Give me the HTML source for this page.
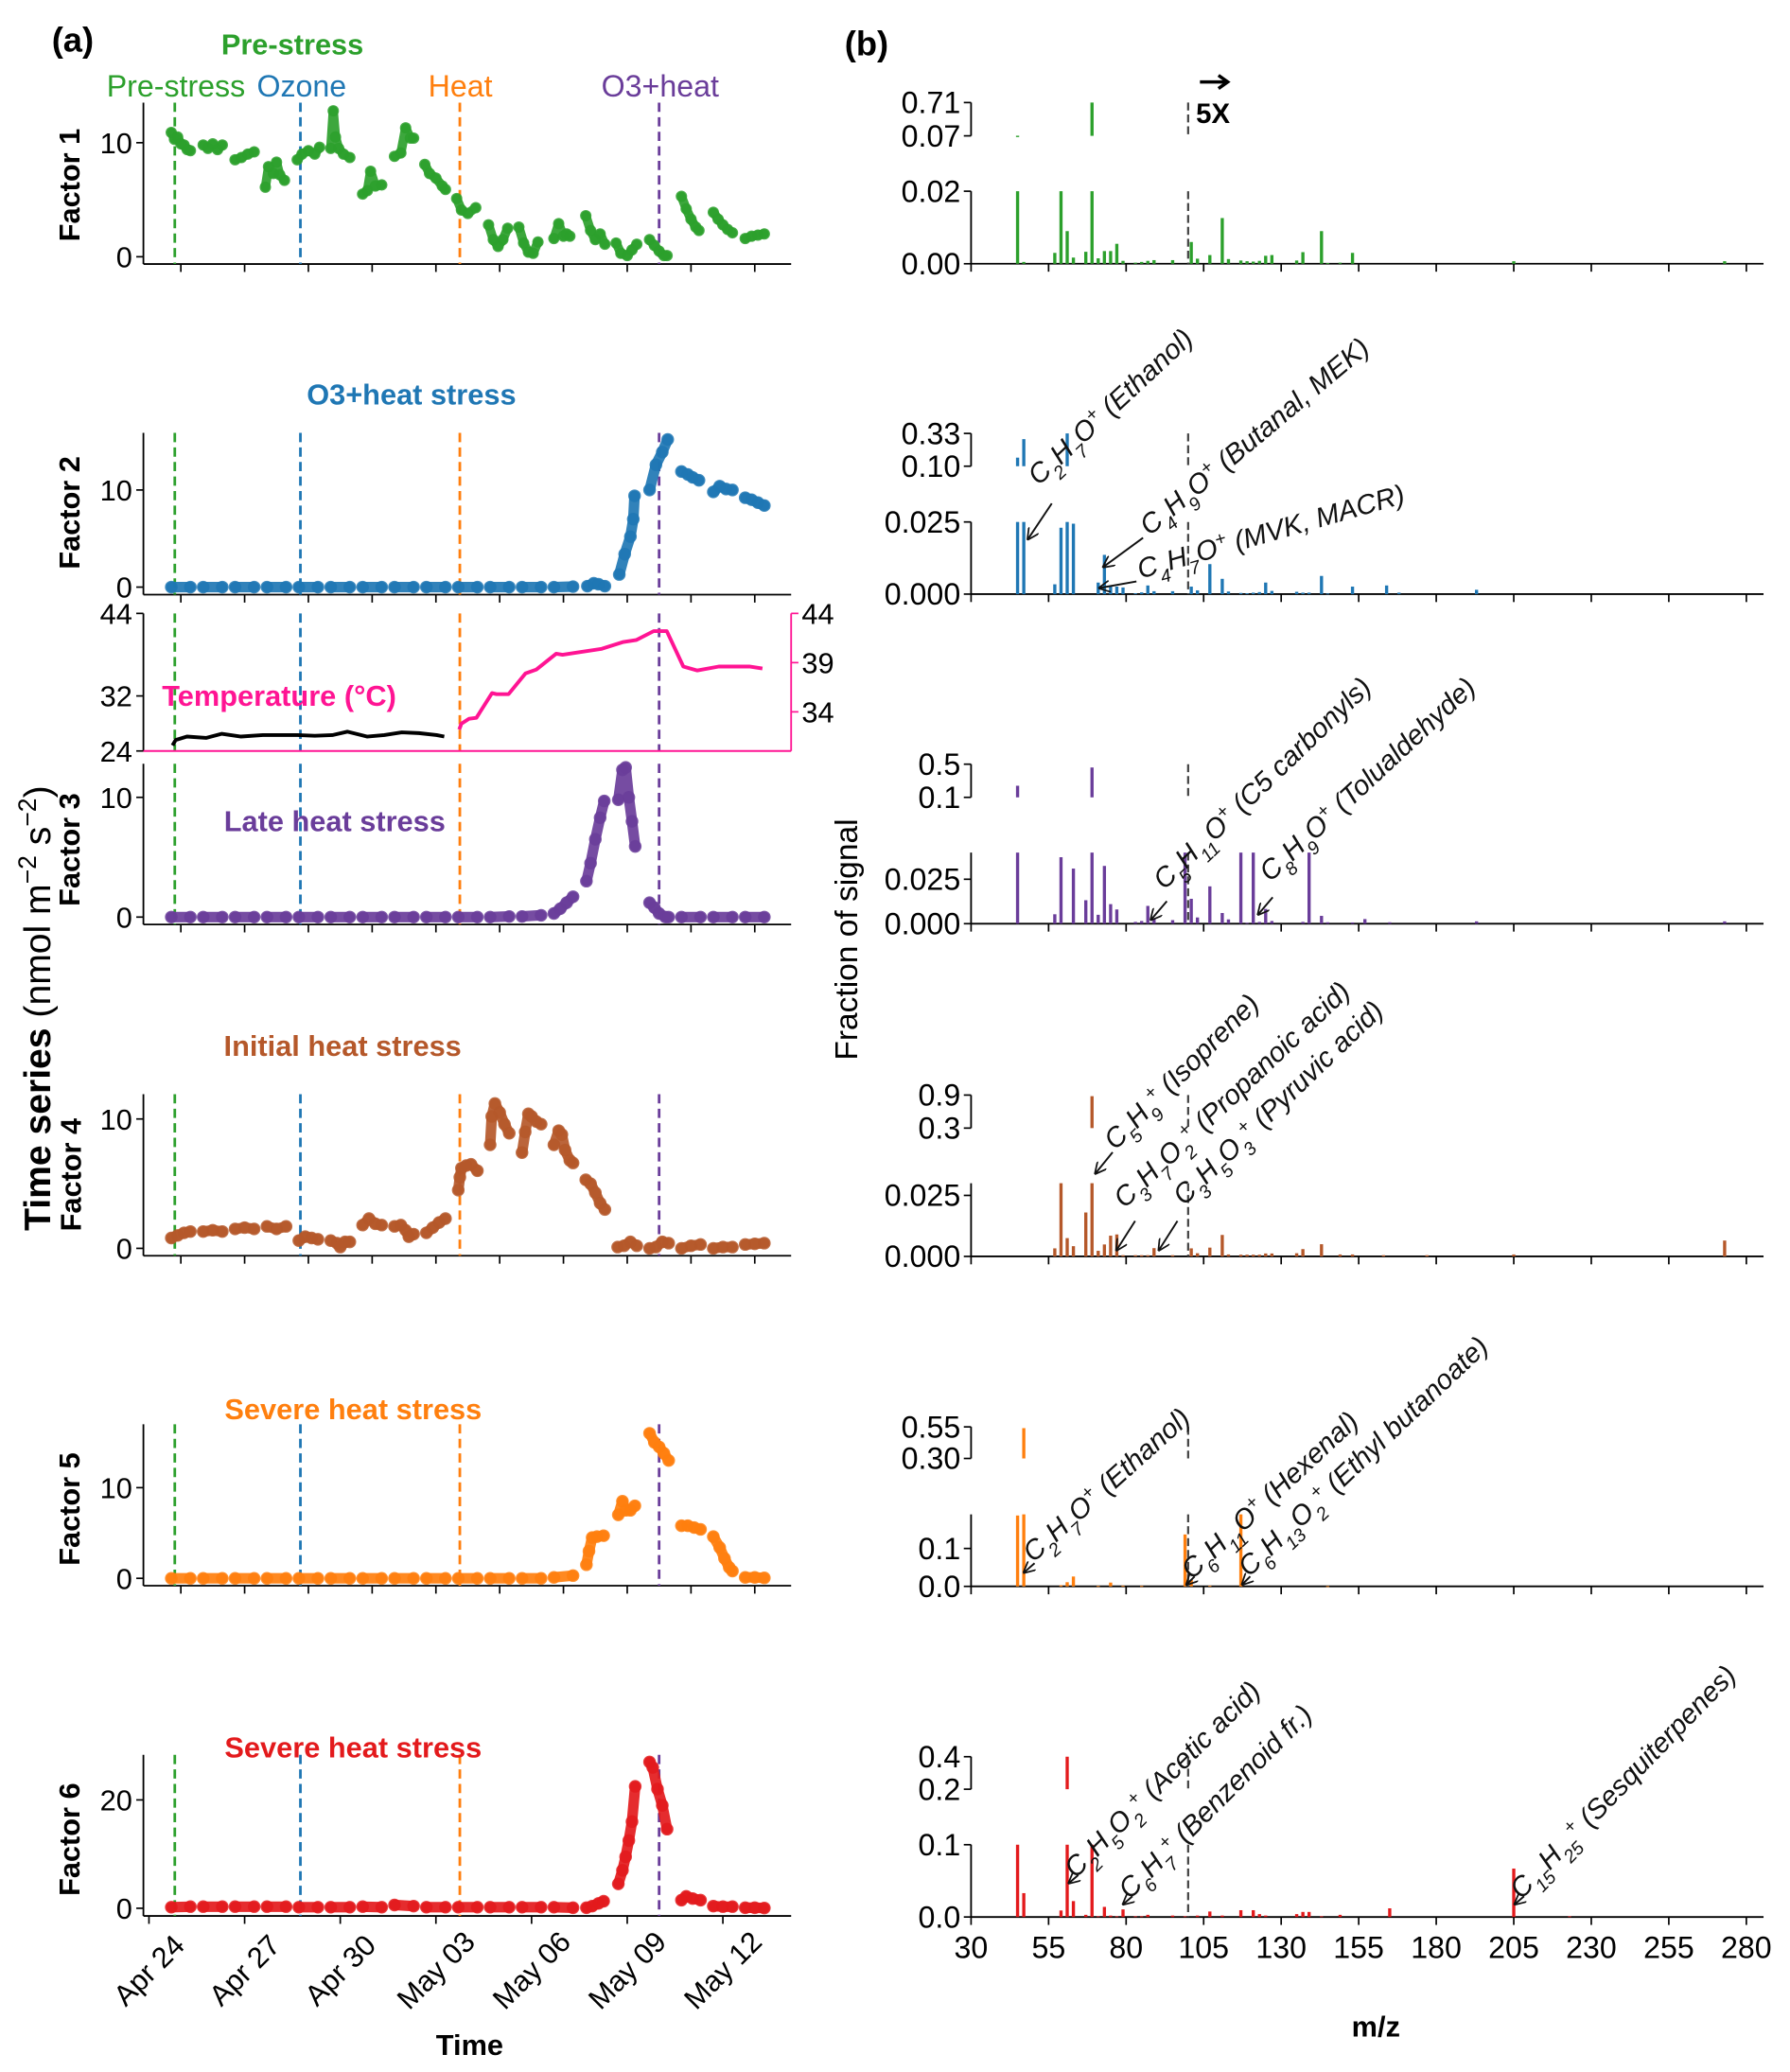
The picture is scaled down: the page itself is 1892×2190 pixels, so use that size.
<!DOCTYPE html>
<html><head><meta charset="utf-8"><title>PMF factors</title>
<style>
html,body{margin:0;padding:0;background:#fff;}
svg{display:block;font-family:"Liberation Sans",Arial,sans-serif;}
.tk{font-size:22px;fill:#000;}
.bt{font-weight:bold;font-size:22px;}
.ann{font-size:21px;font-style:italic;fill:#111;}
</style></head>
<body>
<svg id="fig" xmlns="http://www.w3.org/2000/svg" width="1892" height="2190" viewBox="0 0 1353 1568" preserveAspectRatio="none">
<defs>
<marker id="ah" viewBox="0 0 10 10" refX="9" refY="5" markerWidth="9" markerHeight="9" orient="auto" markerUnits="userSpaceOnUse">
<path d="M0,0 L10,5 L0,10" fill="none" stroke="#111" stroke-width="1.4"/>
</marker>
</defs>
<g id="left"></g>
<g id="right"></g>

<text x="55" y="39" font-size="26" font-weight="bold" text-anchor="middle">(a)</text>
<text x="655" y="42" font-size="26" font-weight="bold" text-anchor="middle">(b)</text>

<text x="221" y="41" class="bt" fill="#2ca02c" text-anchor="middle">Pre-stress</text>
<text x="133" y="73" font-size="23" fill="#2ca02c" text-anchor="middle">Pre-stress</text>
<text x="228" y="73" font-size="23" fill="#1f77b4" text-anchor="middle">Ozone</text>
<text x="348" y="73" font-size="23" fill="#ff7f0e" text-anchor="middle">Heat</text>
<text x="499" y="73" font-size="23" fill="#6a3d9a" text-anchor="middle">O3+heat</text>
<text x="311" y="306" class="bt" fill="#1f77b4" text-anchor="middle">O3+heat stress</text>
<text x="211" y="534" class="bt" fill="#ff1493" text-anchor="middle">Temperature (°C)</text>
<text x="253" y="629" class="bt" fill="#6a3d9a" text-anchor="middle">Late heat stress</text>
<text x="259" y="799" class="bt" fill="#b5582a" text-anchor="middle">Initial heat stress</text>
<text x="267" y="1074" class="bt" fill="#ff7f0e" text-anchor="middle">Severe heat stress</text>
<text x="267" y="1330" class="bt" fill="#e31a1c" text-anchor="middle">Severe heat stress</text>

<text transform="translate(60,140) rotate(-90)" class="bt" text-anchor="middle">Factor 1</text>
<text transform="translate(60,388) rotate(-90)" class="bt" text-anchor="middle">Factor 2</text>
<text transform="translate(60,643) rotate(-90)" class="bt" text-anchor="middle">Factor 3</text>
<text transform="translate(61,889) rotate(-90)" class="bt" text-anchor="middle">Factor 4</text>
<text transform="translate(60,1142) rotate(-90)" class="bt" text-anchor="middle">Factor 5</text>
<text transform="translate(60,1392) rotate(-90)" class="bt" text-anchor="middle">Factor 6</text>
<text transform="translate(38,763) rotate(-90)" font-size="28" text-anchor="middle"><tspan font-weight="bold">Time series</tspan> (nmol m<tspan baseline-shift="super" font-size="19">−2</tspan> s<tspan baseline-shift="super" font-size="19">−2</tspan>)</text>
<text x="355" y="1555" class="bt" text-anchor="middle">Time</text>
<text x="1040" y="1541" class="bt" text-anchor="middle">m/z</text>
<text transform="translate(648,711) rotate(-90)" font-size="24" text-anchor="middle">Fraction of signal</text>

<g>
<line x1="907" y1="62" x2="927" y2="62" stroke="#000" stroke-width="2.5"/>
<path d="M921,57 L928,62 L921,67" fill="none" stroke="#000" stroke-width="2.5"/>
<text x="904" y="93" font-size="21" font-weight="bold">5X</text>
</g>

<g>
<text class="ann" transform="translate(785,368) rotate(-43)">C<tspan baseline-shift="sub" font-size="14">2</tspan>H<tspan baseline-shift="sub" font-size="14">7</tspan>O<tspan baseline-shift="super" font-size="14">+</tspan> (Ethanol)</text>
<line x1="795" y1="381" x2="777" y2="408" stroke="#111" stroke-width="1.4" marker-end="url(#ah)"/>
<text class="ann" transform="translate(869,406) rotate(-40)">C<tspan baseline-shift="sub" font-size="14">4</tspan>H<tspan baseline-shift="sub" font-size="14">9</tspan>O<tspan baseline-shift="super" font-size="14">+</tspan> (Butanal, MEK)</text>
<line x1="864" y1="407" x2="834" y2="429" stroke="#111" stroke-width="1.4" marker-end="url(#ah)"/>
<text class="ann" transform="translate(862,438) rotate(-16)">C<tspan baseline-shift="sub" font-size="14">4</tspan>H<tspan baseline-shift="sub" font-size="14">7</tspan>O<tspan baseline-shift="super" font-size="14">+</tspan> (MVK, MACR)</text>
<line x1="859" y1="440" x2="831" y2="445" stroke="#111" stroke-width="1.4" marker-end="url(#ah)"/>

<text class="ann" transform="translate(880,674) rotate(-44)">C<tspan baseline-shift="sub" font-size="14">5</tspan>H<tspan baseline-shift="sub" font-size="14">11</tspan>O<tspan baseline-shift="super" font-size="14">+</tspan> (C5 carbonyls)</text>
<line x1="882" y1="682" x2="870" y2="696" stroke="#111" stroke-width="1.4" marker-end="url(#ah)"/>
<text class="ann" transform="translate(960,668) rotate(-43)">C<tspan baseline-shift="sub" font-size="14">8</tspan>H<tspan baseline-shift="sub" font-size="14">9</tspan>O<tspan baseline-shift="super" font-size="14">+</tspan> (Tolualdehyde)</text>
<line x1="962" y1="679" x2="951" y2="692" stroke="#111" stroke-width="1.4" marker-end="url(#ah)"/>

<text class="ann" transform="translate(843,871) rotate(-45)">C<tspan baseline-shift="sub" font-size="14">5</tspan>H<tspan baseline-shift="sub" font-size="14">9</tspan><tspan baseline-shift="super" font-size="14">+</tspan> (Isoprene)</text>
<line x1="841" y1="872" x2="828" y2="888" stroke="#111" stroke-width="1.4" marker-end="url(#ah)"/>
<text class="ann" transform="translate(850,915) rotate(-43.5)">C<tspan baseline-shift="sub" font-size="14">3</tspan>H<tspan baseline-shift="sub" font-size="14">7</tspan>O<tspan baseline-shift="sub" font-size="14">2</tspan><tspan baseline-shift="super" font-size="14">+</tspan> (Propanoic acid)</text>
<line x1="858" y1="924" x2="844" y2="946" stroke="#111" stroke-width="1.4" marker-end="url(#ah)"/>
<text class="ann" transform="translate(895,913) rotate(-44)">C<tspan baseline-shift="sub" font-size="14">3</tspan>H<tspan baseline-shift="sub" font-size="14">5</tspan>O<tspan baseline-shift="sub" font-size="14">3</tspan><tspan baseline-shift="super" font-size="14">+</tspan> (Pyruvic acid)</text>
<line x1="890" y1="924" x2="876" y2="946" stroke="#111" stroke-width="1.4" marker-end="url(#ah)"/>

<text class="ann" transform="translate(781,1183) rotate(-42)">C<tspan baseline-shift="sub" font-size="14">2</tspan>H<tspan baseline-shift="sub" font-size="14">7</tspan>O<tspan baseline-shift="super" font-size="14">+</tspan> (Ethanol)</text>
<line x1="782" y1="1183" x2="774" y2="1190" stroke="#111" stroke-width="1.4" marker-end="url(#ah)"/>
<text class="ann" transform="translate(901,1196) rotate(-43)">C<tspan baseline-shift="sub" font-size="14">6</tspan>H<tspan baseline-shift="sub" font-size="14">11</tspan>O<tspan baseline-shift="super" font-size="14">+</tspan> (Hexenal)</text>
<line x1="903" y1="1193" x2="897" y2="1199" stroke="#111" stroke-width="1.4" marker-end="url(#ah)"/>
<text class="ann" transform="translate(944,1194) rotate(-43.6)">C<tspan baseline-shift="sub" font-size="14">6</tspan>H<tspan baseline-shift="sub" font-size="14">13</tspan>O<tspan baseline-shift="sub" font-size="14">2</tspan><tspan baseline-shift="super" font-size="14">+</tspan> (Ethyl butanoate)</text>
<line x1="945" y1="1193" x2="939" y2="1199" stroke="#111" stroke-width="1.4" marker-end="url(#ah)"/>

<text class="ann" transform="translate(813,1422) rotate(-45)">C<tspan baseline-shift="sub" font-size="14">2</tspan>H<tspan baseline-shift="sub" font-size="14">5</tspan>O<tspan baseline-shift="sub" font-size="14">2</tspan><tspan baseline-shift="super" font-size="14">+</tspan> (Acetic acid)</text>
<line x1="815" y1="1419" x2="808" y2="1425" stroke="#111" stroke-width="1.4" marker-end="url(#ah)"/>
<text class="ann" transform="translate(854,1438) rotate(-45)">C<tspan baseline-shift="sub" font-size="14">6</tspan>H<tspan baseline-shift="sub" font-size="14">7</tspan><tspan baseline-shift="super" font-size="14">+</tspan> (Benzenoid fr.)</text>
<line x1="856" y1="1435" x2="849" y2="1441" stroke="#111" stroke-width="1.4" marker-end="url(#ah)"/>
<text class="ann" transform="translate(1150,1438) rotate(-46)">C<tspan baseline-shift="sub" font-size="14">15</tspan>H<tspan baseline-shift="sub" font-size="14">25</tspan><tspan baseline-shift="super" font-size="14">+</tspan> (Sesquiterpenes)</text>
<line x1="1152" y1="1435" x2="1145" y2="1441" stroke="#111" stroke-width="1.4" marker-end="url(#ah)"/>
</g>
</svg>

<script>
// ---------- time series data (t = days since Apr 24 00:00) ----------
const f1T=[[0.7,0.8,0.9,1.0,1.1,1.2,1.3],[1.7,1.85,2.0,2.15,2.3],[2.7,2.9,3.1,3.3],[3.65,3.75,3.9,4.0,4.1,4.25],[4.65,4.8,5.0,5.2,5.35],[5.7,5.78,5.85,5.95,6.1,6.3],[6.7,6.85,6.95,7.1,7.3],[7.7,7.9,8.05,8.2,8.3],[8.65,8.8,9.0,9.2,9.3],[9.65,9.8,10.0,10.25],[10.65,10.8,10.95,11.1,11.25],[11.6,11.75,11.9,12.05,12.2],[12.7,12.85,13.0,13.1,13.2],[13.7,13.85,14.0,14.15,14.3],[14.65,14.8,15.0,15.15,15.3],[15.7,15.85,16.0,16.15,16.25],[16.7,16.85,17.0,17.15,17.25],[17.7,17.85,18.0,18.15,18.3],[18.7,18.9,19.1,19.3]];
const f1V=[[10.9,10.3,10.5,9.9,9.8,9.4,9.3],[9.8,9.5,9.9,9.4,9.8],[8.5,8.7,9.0,9.2],[6.1,7.9,7.3,8.3,7.2,6.7],[8.5,9.0,9.3,9.0,9.6],[9.5,12.8,10.5,9.5,9.0,8.7],[5.5,5.8,7.5,6.2,6.3],[8.8,9.1,11.3,10.4,10.4],[8.1,7.3,6.9,6.2,5.9],[5.1,4.1,3.8,4.3],[2.8,1.5,0.9,1.5,2.5],[2.6,1.2,0.4,0.3,1.3],[1.6,2.9,1.8,2.0,1.8],[3.6,2.3,1.5,2.0,1.1],[1.2,0.3,0.1,0.6,1.1],[1.5,1.0,0.5,0.1,0.1],[5.3,4.2,3.3,2.6,2.3],[3.9,3.3,2.8,2.4,2.1],[1.6,1.8,1.9,2.0]];

const f2T=[[0.7,1.3],[1.7,2.3],[2.7,3.3],[3.7,4.3],[4.7,5.3],[5.7,6.3],[6.7,7.3],[7.7,8.3],[8.7,9.3],[9.7,10.3],[10.7,11.3],[11.7,12.3],[12.7,13.3],[13.75,13.95,14.1,14.3],[14.75,14.92,15.1,15.19,15.23],[15.7,15.9,16.1,16.27],[16.7,16.9,17.05,17.25],[17.7,17.9,18.1,18.3],[18.7,18.9,19.1,19.3]];
const f2V=[[0,0],[0,0],[0,0],[0,0],[0,0],[0,0],[0,0],[0,0],[0,0],[0,0],[0,0],[0,0],[0,0.05],[0.1,0.4,0.3,0.1],[1.3,3.4,5.2,7.0,9.4],[10.0,12.6,13.9,15.2],[11.9,11.6,11.3,11.0],[9.8,10.4,10.1,10.0],[9.2,9.0,8.7,8.4]];

const f3T=[[0.7,1.3],[1.7,2.3],[2.7,3.3],[3.7,4.3],[4.7,5.3],[5.7,6.3],[6.7,7.3],[7.7,8.3],[8.7,9.3],[9.7,10.3],[10.7,11.3],[11.7,12.3],[12.7,12.9,13.1,13.3],[13.72,13.85,14.0,14.15,14.28],[14.72,14.85,14.95,15.05,15.15,15.25],[15.7,15.85,16.0,16.2,16.3],[16.7,17.3],[17.7,18.3],[18.7,19.3]];
const f3V=[[0,0],[0,0],[0,0],[0,0],[0,0],[0,0],[0,0],[0,0],[0,0],[0,0],[0,0.05],[0.05,0.15],[0.3,0.7,1.2,1.7],[3.0,4.5,6.5,8.3,9.7],[9.8,12.3,12.5,10.0,8.0,5.9],[1.2,0.8,0.3,0.0,0.0],[0,0],[0,0],[0,0]];

const f4T=[[0.7,0.9,1.1,1.3],[1.7,2.0,2.3],[2.7,3.0,3.3],[3.7,4.0,4.3],[4.7,4.9,5.1,5.3],[5.7,5.9,6.0,6.15,6.3],[6.7,6.9,7.1,7.3],[7.7,7.9,8.05,8.15,8.3],[8.7,8.9,9.1,9.3],[9.7,9.75,9.8,9.95,10.1,10.3],[10.7,10.75,10.85,11.0,11.15,11.3],[11.7,11.8,11.9,12.0,12.15,12.3],[12.7,12.85,12.95,13.05,13.2,13.3],[13.7,13.85,14.0,14.15,14.3],[14.7,14.9,15.1,15.3],[15.7,15.9,16.1,16.3],[16.7,17.0,17.3],[17.7,18.0,18.3],[18.7,19.0,19.3]];
const f4V=[[0.8,1.0,1.2,1.3],[1.3,1.4,1.3],[1.5,1.6,1.5],[1.7,1.5,1.7],[0.6,0.9,0.8,0.7],[0.6,0.4,0.1,0.5,0.5],[1.8,2.3,1.9,1.8],[1.7,1.8,1.4,0.9,1.1],[1.2,1.6,2.0,2.3],[4.5,5.5,6.2,6.4,6.5,6.0],[8.0,10.2,11.2,10.5,9.6,8.9],[7.4,9.0,10.4,10.2,9.8,9.6],[8.0,9.1,8.8,7.6,6.8,6.6],[5.3,5.0,4.3,3.5,3.0],[0.1,0.2,0.5,0.2],[0.0,0.1,0.5,0.4],[0.0,0.2,0.3],[0.0,0.1,0.1],[0.3,0.35,0.4]];

const f5T=[[0.7,1.3],[1.7,2.3],[2.7,3.3],[3.7,4.3],[4.7,5.3],[5.7,6.3],[6.7,7.3],[7.7,8.3],[8.7,9.3],[9.7,10.3],[10.7,11.3],[11.7,12.3],[12.7,13.3],[13.72,13.8,13.9,14.05,14.26],[14.72,14.85,14.95,15.1,15.24],[15.7,15.85,16.0,16.15,16.3],[16.7,16.9,17.1,17.3],[17.7,17.9,18.05,18.2,18.3],[18.7,19.0,19.3]];
const f5V=[[0,0],[0,0],[0,0],[0,0],[0,0],[0,0],[0,0],[0,0],[0,0],[0,0],[0,0],[0,0],[0.1,0.3],[1.5,3.0,4.5,4.6,4.7],[7.0,8.5,7.5,7.5,8.0],[16.0,15.0,14.5,13.8,13.0],[5.8,5.8,5.6,5.4],[4.6,3.4,2.2,1.2,0.8],[0.1,0.1,0.05]];

const f6T=[[0.7,1.3],[1.7,2.3],[2.7,3.3],[3.7,4.3],[4.7,5.3],[5.7,6.3],[6.7,7.3],[7.7,8.3],[8.7,9.3],[9.7,10.3],[10.7,11.3],[11.7,12.3],[12.7,13.3],[13.72,13.9,14.1,14.26],[14.72,14.85,14.95,15.05,15.15,15.25],[15.7,15.8,15.95,16.1,16.25],[16.7,16.85,17.05,17.3],[17.7,18.0,18.3],[18.7,19.0,19.3]];
const f6V=[[0.2,0.3],[0.3,0.3],[0.3,0.3],[0.3,0.3],[0.2,0.2],[0.2,0.2],[0.3,0.2],[0.6,0.4],[0.2,0.2],[0.2,0.2],[0.2,0.2],[0.2,0.2],[0.2,0.1],[0.1,0.4,0.9,1.3],[4.5,7.0,9.5,12.5,16.0,22.5],[27.0,26.0,22.0,19.0,14.6],[1.5,2.2,1.8,1.5],[0.4,0.3,0.3],[0.1,0.1,0.05]];

const tempPreT=[0.74,0.84,1.19,1.8,2.28,2.89,3.57,4.18,4.66,5.2,5.75,6.23,6.84,7.38,7.93,8.47,9.02,9.26];
const tempPreV=[24.8,25.6,26.1,25.9,26.5,26.1,26.3,26.3,26.3,26.2,26.3,26.8,26.1,26.3,26.7,26.6,26.3,26.1];
const tempHeatT=[9.73,9.8,10.04,10.27,10.76,10.9,11.28,11.81,12.15,12.77,12.97,13.38,14.2,14.88,15.29,15.83,16.24,16.76,17.19,17.87,18.83,19.24];
const tempHeatV=[32.2,32.8,33.3,33.4,35.9,35.8,35.8,37.9,38.3,39.9,39.8,40.0,40.4,41.1,41.3,42.2,42.2,38.6,38.2,38.6,38.6,38.4];

const phaseT=[0.81,4.75,9.75,16.0];
const dateLabels=["Apr 24","Apr 27","Apr 30","May 03","May 06","May 09","May 12"];
const dateTickT=[0,3,6,9,12,15,18];
const upperTickT=[1,3,5,7,9,11,13,15,17,19];

// ---------- mass spectra data ----------
const b1Mz=[45,47,57,59,61,63,67,69,71,73,75,77,79,83,85,87,89,95,101,103,107,111,113,117,119,121,123,125,127,135,137,143,145,149,153,205,273];
const b1Val=[0.072,0.0005,0.003,0.02,0.009,0.0017,0.0033,0.71,0.0015,0.0035,0.0035,0.0055,0.0008,0.0003,0.0005,0.0008,0.001,0.001,0.006,0.0014,0.0024,0.0126,0.0013,0.0009,0.0007,0.0006,0.0008,0.0022,0.0024,0.0009,0.0032,0.009,0.0002,0.0003,0.003,0.0007,0.0007];
const b2Mz=[45,47,57,59,61,63,71,73,75,77,79,83,85,87,89,95,101,103,107,111,113,117,119,121,123,125,127,135,137,139,143,145,153,164,168,193];
const b2Val=[0.16,0.29,0.0034,0.023,0.33,0.0244,0.004,0.0136,0.0026,0.0026,0.0023,0.0003,0.0006,0.003,0.001,0.001,0.0026,0.0013,0.0104,0.0053,0.0009,0.0004,0.0003,0.0005,0.0007,0.004,0.0011,0.0008,0.0005,0.0005,0.0063,0.0002,0.0026,0.003,0.0005,0.0015];
const b3Mz=[45,57,59,63,67,69,71,73,75,77,83,85,87,89,95,99,101,103,107,111,113,117,119,121,123,125,127,137,139,143,145,153,157,165,193,273];
const b3Val=[0.24,0.0053,0.0374,0.031,0.0132,0.46,0.005,0.0325,0.011,0.008,0.001,0.0015,0.010,0.0026,0.002,0.06,0.014,0.0035,0.021,0.006,0.0024,0.06,0.0005,0.06,0.001,0.0083,0.0015,0.001,0.06,0.0044,0.0008,0.0007,0.0026,0.0008,0.0013,0.0013];
const b4Mz=[57,59,61,63,67,69,71,73,75,77,79,83,85,87,89,95,101,103,107,111,113,117,119,121,123,125,127,135,137,143,149,153,163,177,205,273];
const b4Val=[0.0033,0.031,0.0075,0.0042,0.018,0.88,0.0023,0.0049,0.0085,0.009,0.0005,0.0005,0.0005,0.0005,0.0034,0.0005,0.0033,0.0013,0.0036,0.0088,0.0008,0.0007,0.0007,0.0007,0.0007,0.0012,0.0012,0.0013,0.003,0.005,0.0008,0.0008,0.0005,0.0005,0.0008,0.0065];
const b5Mz=[45,47,59,61,63,71,75,79,85,99,101,107,117,145];
const b5Val=[0.187,0.54,0.003,0.011,0.026,0.001,0.01,0.002,0.001,0.137,0.017,0.002,0.2,0.0005];
const b6Mz=[45,47,59,61,63,67,69,71,73,75,77,79,83,85,87,95,99,103,107,111,117,121,123,125,135,137,139,143,149,165,205,223];
const b6Val=[0.1,0.033,0.009,0.4,0.022,0.003,0.1,0.001,0.014,0.002,0.001,0.0105,0.001,0.001,0.003,0.002,0.001,0.002,0.0076,0.002,0.0094,0.0094,0.004,0.002,0.004,0.007,0.007,0.001,0.003,0.012,0.067,0.001];
const mzTicks=[30,55,80,105,130,155,180,205,230,255,280];
const b1Low=["0.00","0.02"], b1Up=["0.07","0.71"];
const b2Low=["0.000","0.025"], b2Up=["0.10","0.33"];
const b3Low=["0.000","0.025"], b3Up=["0.1","0.5"];
const b4Low=["0.000","0.025"], b4Up=["0.3","0.9"];
const b5Low=["0.0","0.1"], b5Up=["0.30","0.55"];
const b6Low=["0.0","0.1"], b6Up=["0.2","0.4"];

const NS="http://www.w3.org/2000/svg";
function mk(tag,attrs,parent){const e=document.createElementNS(NS,tag);for(const k in attrs)e.setAttribute(k,attrs[k]);parent.appendChild(e);return e;}
const xT=t=>112.6+24.1*t;
const xM=m=>734+(m-30)*2.344;
const L=document.getElementById('left'), R=document.getElementById('right');
const phaseCol=["#2ca02c","#1f77b4","#ff7f0e","#6a3d9a"];

function leftAxes(g,top,axisY,yFn,ticks,tickT){
  mk('line',{x1:108.4,y1:top,x2:108.4,y2:axisY,stroke:'#000','stroke-width':1.3},g);
  mk('line',{x1:108.4,y1:axisY,x2:598,y2:axisY,stroke:'#000','stroke-width':1.3},g);
  ticks.forEach(v=>{const y=yFn(v);
    mk('line',{x1:103,y1:y,x2:108.4,y2:y,stroke:'#000','stroke-width':1.2},g);
    const tx=mk('text',{x:100,y:y+8,class:'tk','text-anchor':'end'},g);tx.textContent=String(v);
    
    });
  tickT.forEach(t=>mk('line',{x1:xT(t),y1:axisY,x2:xT(t),y2:axisY+6,stroke:'#000','stroke-width':1.2},g));
  phaseT.forEach((t,i)=>{const l=mk('line',{x1:xT(t),y1:top,x2:xT(t),y2:axisY,stroke:phaseCol[i],'stroke-width':2,'stroke-dasharray':'7,4'},g);
    
    });
}
function series(g,T,V,yFn,col,w){
  T.forEach((ts,i)=>{
    const pts=ts.map((t,j)=>xT(t).toFixed(1)+','+yFn(V[i][j]).toFixed(1)).join(' ');
    const p=mk('polyline',{points:pts,fill:'none',stroke:col,'stroke-width':w,'stroke-linecap':'round','stroke-linejoin':'round',opacity:0.92},g);
    
    
    ts.forEach((t,j)=>mk('circle',{cx:xT(t),cy:yFn(V[i][j]),r:w/2+0.8,fill:col,opacity:0.85},g));
  });
}
const panels=[
 {n:'factor1',top:77.7,y0:194.3,k:8.63,ax:199.8,ticks:[0,10],T:f1T,V:f1V,c:'#2ca02c',w:7},
 {n:'factor2',top:327.6,y0:444.3,k:7.35,ax:450,ticks:[0,10],T:f2T,V:f2V,c:'#1f77b4',w:8},
 {n:'factor3',top:578,y0:694,k:9.06,ax:699.6,ticks:[0,10],T:f3T,V:f3V,c:'#6a3d9a',w:8},
 {n:'factor4',top:828,y0:944.7,k:9.79,ax:950.3,ticks:[0,10],T:f4T,V:f4V,c:'#b5582a',w:8},
 {n:'factor5',top:1077.8,y0:1194.4,k:6.86,ax:1200,ticks:[0,10],T:f5T,V:f5V,c:'#ff7f0e',w:8},
 {n:'factor6',top:1328,y0:1444.1,k:4.1,ax:1449.9,ticks:[0,20],T:f6T,V:f6V,c:'#e31a1c',w:8}
];
panels.forEach((p,i)=>{
  const g=mk('g',{},L);
  
  
  const yFn=v=>p.y0-p.k*v;
  leftAxes(g,p.top,p.ax,yFn,p.ticks,i===5?dateTickT:upperTickT);
  series(g,p.T,p.V,yFn,p.c,p.w);
});
// temperature panel
(function(){
  const g=mk('g',{},L);
  
  
  const yl=v=>568.3-(v-24)*5.205, yr=v=>464.2+(44-v)*7.45;
  mk('line',{x1:108.4,y1:464.2,x2:108.4,y2:568.3,stroke:'#000','stroke-width':1.3},g);
  [24,32,44].forEach(v=>{const y=yl(v);mk('line',{x1:103,y1:y,x2:108.4,y2:y,stroke:'#000','stroke-width':1.2},g);
    const tx=mk('text',{x:100,y:y+8,class:'tk','text-anchor':'end'},g);tx.textContent=String(v);
    
    });
  mk('line',{x1:598,y1:464.2,x2:598,y2:568.3,stroke:'#ff1493','stroke-width':1.3},g);
  [34,39,44].forEach(v=>{const y=yr(v);mk('line',{x1:598,y1:y,x2:603.5,y2:y,stroke:'#ff1493','stroke-width':1.2},g);
    const tx=mk('text',{x:606,y:y+8,class:'tk',fill:'#ff1493'},g);tx.textContent=String(v);tx.setAttribute('fill','#ff1493');
    
    });
  phaseT.forEach((t,i)=>mk('line',{x1:xT(t),y1:464.2,x2:xT(t),y2:568.3,stroke:phaseCol[i],'stroke-width':2,'stroke-dasharray':'7,4'},g));
  const a=mk('polyline',{points:tempPreT.map((t,j)=>xT(t).toFixed(1)+','+yl(tempPreV[j]).toFixed(1)).join(' '),fill:'none',stroke:'#000','stroke-width':2.8,'stroke-linejoin':'round'},g);
  
  
  const b=mk('polyline',{points:tempHeatT.map((t,j)=>xT(t).toFixed(1)+','+yr(tempHeatV[j]).toFixed(1)).join(' '),fill:'none',stroke:'#ff1493','stroke-width':2.8,'stroke-linejoin':'round'},g);
  
  
  mk('line',{x1:108.4,y1:568.3,x2:598,y2:568.3,stroke:'#ff1493','stroke-width':1.5},g);
})();
// date labels
dateTickT.forEach((t,i)=>{const x=xT(t),y=1491;
  const tx=mk('text',{x:x,y:y,'font-size':22,'text-anchor':'middle','dominant-baseline':'central',transform:`rotate(-45 ${x} ${y})`},L);
  tx.textContent=dateLabels[i];
  
  });

// right panels
const spec=[
 {n:'spectrum1',mz:b1Mz,val:b1Val,c:'#2ca02c',y0:199.6,yTop:144.7,lowMax:0.02,lowTicks:[0,0.02],lowLab:b1Low,yb:102.8,yt:77.6,uMin:0.07,uMax:0.71,upLab:b1Up},
 {n:'spectrum2',mz:b2Mz,val:b2Val,c:'#1f77b4',y0:449.6,yTop:395,lowMax:0.025,lowTicks:[0,0.025],lowLab:b2Low,yb:352.8,yt:328,uMin:0.10,uMax:0.33,upLab:b2Up},
 {n:'spectrum3',mz:b3Mz,val:b3Val,c:'#6a3d9a',y0:699,yTop:645.2,lowMax:0.04,lowTicks:[0,0.025],lowLab:b3Low,yb:603.4,yt:578.3,uMin:0.1,uMax:0.5,upLab:b3Up},
 {n:'spectrum4',mz:b4Mz,val:b4Val,c:'#b5582a',y0:950.8,yTop:895.4,lowMax:0.03,lowTicks:[0,0.025],lowLab:b4Low,yb:853.7,yt:828.7,uMin:0.3,uMax:0.9,upLab:b4Up},
 {n:'spectrum5',mz:b5Mz,val:b5Val,c:'#ff7f0e',y0:1200.5,yTop:1146,lowMax:0.19,lowTicks:[0,0.1],lowLab:b5Low,yb:1103.7,yt:1079.8,uMin:0.30,uMax:0.55,upLab:b5Up},
 {n:'spectrum6',mz:b6Mz,val:b6Val,c:'#e31a1c',y0:1450.7,yTop:1396,lowMax:0.1,lowTicks:[0,0.1],lowLab:b6Low,yb:1354,yt:1329.4,uMin:0.2,uMax:0.4,upLab:b6Up}
];
spec.forEach((s,si)=>{
  const g=mk('g',{},R);
  
  
  const yLo=v=>s.y0-(Math.min(v,s.lowMax)/s.lowMax)*(s.y0-s.yTop);
  const yUp=v=>s.yb-((Math.min(v,s.uMax)-s.uMin)/(s.uMax-s.uMin))*(s.yb-s.yt);
  mk('line',{x1:734,y1:s.yTop,x2:734,y2:s.y0,stroke:'#000','stroke-width':1.3},g);
  mk('line',{x1:734,y1:s.yt,x2:734,y2:s.yb,stroke:'#000','stroke-width':1.3},g);
  mk('line',{x1:734,y1:s.y0,x2:1333,y2:s.y0,stroke:'#000','stroke-width':1.3},g);
  s.lowTicks.forEach((v,i)=>{const y=yLo(v);mk('line',{x1:728.5,y1:y,x2:734,y2:y,stroke:'#000','stroke-width':1.2},g);
    const tx=mk('text',{x:726,y:y+8,'font-size':23,'text-anchor':'end'},g);tx.textContent=s.lowLab[i];
    
    });
  [s.uMin,s.uMax].forEach((v,i)=>{const y=yUp(v);mk('line',{x1:728.5,y1:y,x2:734,y2:y,stroke:'#000','stroke-width':1.2},g);
    const tx=mk('text',{x:726,y:y+8,'font-size':23,'text-anchor':'end'},g);tx.textContent=s.upLab[i];
    
    });
  mzTicks.forEach(m=>{mk('line',{x1:xM(m),y1:s.y0,x2:xM(m),y2:s.y0+6,stroke:'#000','stroke-width':1.2},g);
    if(si===5){const tx=mk('text',{x:xM(m),y:s.y0+31,'font-size':23,'text-anchor':'middle'},g);tx.textContent=String(m);
      
      }});
  mk('line',{x1:xM(100),y1:s.yt,x2:xM(100),y2:s.yb,stroke:'#444','stroke-width':1.6,'stroke-dasharray':'6,3'},g);
  mk('line',{x1:xM(100),y1:s.yTop,x2:xM(100),y2:s.y0,stroke:'#444','stroke-width':1.6,'stroke-dasharray':'6,3'},g);
  s.mz.forEach((m,i)=>{const v=s.val[i];const x=xM(m)-1.2;
    const yl=yLo(v);
    const r=mk('rect',{x:x,y:yl,width:2.4,height:Math.max(0.6,s.y0-yl),fill:s.c},g);
    
    
    if(v>s.uMin){const yu=yUp(v);
      const r2=mk('rect',{x:x,y:yu,width:2.4,height:Math.max(1,s.yb-yu),fill:s.c},g);
      
      }
  });
});
</script>
</body></html>
